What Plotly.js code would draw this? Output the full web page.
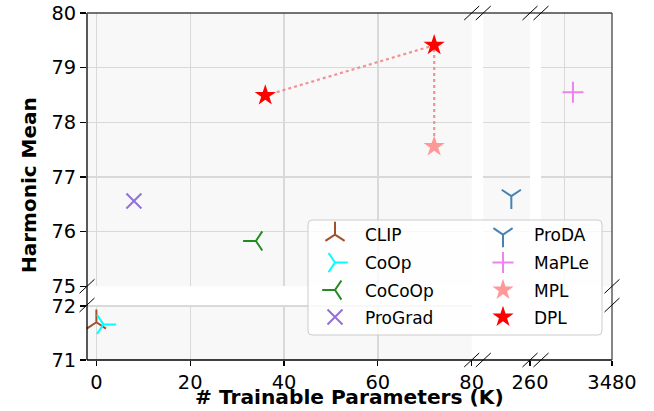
<!DOCTYPE html>
<html>
<head>
<meta charset="utf-8">
<script src="https://cdn.plot.ly/plotly-3.0.1.min.js"></script>
<style>
html,body{margin:0;padding:0;background:#fff;}
#chart{width:654px;height:411px;}
</style>
</head>
<body>
<div id="chart"></div>
<script>
// ---- data (x: # trainable parameters in K, y: harmonic mean) ----
const methods = ['CLIP', 'CoOp', 'CoCoOp', 'ProGrad', 'ProDA', 'MaPLe', 'MPL', 'DPL'];
const clipX = [0],      clipY = [71.70];
const coopX = [1.5],    coopY = [71.66];
const cocoopX = [34],   cocoopY = [75.83];
const progradX = [8],   progradY = [76.56];
const prodaX = [248],   prodaY = [76.65];
const mapleX = [3447],  mapleY = [78.55];
const mplX = [72],      mplY = [77.56];
const dplX = [36, 72],  dplY = [78.49, 79.41];

// ---- ticks ----
const xTicks1 = [0, 20, 40, 60, 80];
const xTicks2 = [260];  const xGrid2 = [230];
const xTicks3 = [3480]; const xGrid3 = [3440];
const yTicksTop = [75, 76, 77, 78, 79, 80];
const yTicksBottom = [71, 72];

// ---- geometry helpers (pixel -> paper) ----
const W = 654, H = 411;
const M = {l: 87, r: 42, t: 13, b: 51};
const PW = W - M.l - M.r, PH = H - M.t - M.b;
const PX = x => (x - M.l) / PW;
const PY = y => (H - M.b - y) / PH;

const colD = [[87, 471.7], [483.3, 530], [541, 612]].map(d => [PX(d[0]), Math.min(1, PX(d[1]))]);
const rowTop = [PY(286.3), 1];
const rowBot = [0, PY(305)];

const FONT = 'DejaVu Sans, Arial, sans-serif';
const gridColor = '#d9d9d9';
const bgColor = '#f8f8f8';

function xax(domain, range, tickvals, gridvals) {
  const a = {
    domain: domain, range: range, anchor: 'y2', type: 'linear',
    tickmode: 'array', tickvals: tickvals, ticktext: tickvals.map(String),
    showticklabels: true, ticks: 'outside', ticklen: 5, tickwidth: 1.2, tickcolor: '#000',
    showgrid: true, gridcolor: gridColor, gridwidth: 1.3,
    zeroline: false, showline: false, fixedrange: true,
    tickfont: {family: FONT, size: 19.4, color: '#000'}
  };
  if (gridvals) a.minor = {tickmode: 'array', tickvals: gridvals, ticks: '', showgrid: true,
                           gridcolor: gridColor, gridwidth: 1.3};
  return a;
}
function yax(domain, range, tickvals) {
  return {
    domain: domain, range: range, anchor: 'x', type: 'linear',
    tickmode: 'array', tickvals: tickvals,
    showticklabels: true, ticks: 'outside', ticklen: 6, tickwidth: 1.2, tickcolor: '#000',
    showgrid: true, gridcolor: gridColor, gridwidth: 1.3,
    zeroline: false, showline: false, fixedrange: true,
    tickfont: {family: FONT, size: 19.4, color: '#000'}
  };
}

// legend entry positions (pixel centers of symbol / row)
const legRows = [235, 263, 290.5, 317.5];
const legCols = [334, 500];
const legendKeys = ['legend', 'legend2', 'legend3', 'legend4', 'legend5', 'legend6', 'legend7', 'legend8'];

function pt(name, xs, ys, xa, ya, symbol, color, size, lw, idx) {
  return {
    type: 'scatter', mode: 'markers', name: name, x: xs, y: ys,
    xaxis: xa, yaxis: ya, legend: legendKeys[idx], cliponaxis: false,
    marker: {symbol: symbol, size: size, color: color, line: {color: color, width: lw}}
  };
}

const traces = [
  {type: 'scatter', mode: 'lines', x: [dplX[0], dplX[1], mplX[0]], y: [dplY[0], dplY[1], mplY[0]],
   xaxis: 'x', yaxis: 'y', showlegend: false, hoverinfo: 'skip',
   line: {color: 'rgba(240,128,128,0.85)', width: 2.2, dash: 'dot'}},
  pt(methods[0], clipX, clipY, 'x', 'y2', 'y-up', '#a0522d', 16, 2, 0),
  pt(methods[1], coopX, coopY, 'x', 'y2', 'y-right', '#00ffff', 16, 2, 1),
  pt(methods[2], cocoopX, cocoopY, 'x', 'y', 'y-left', '#228b22', 16, 2, 2),
  pt(methods[3], progradX, progradY, 'x', 'y', 'x-thin', '#9370db', 15, 2, 3),
  pt(methods[4], prodaX, prodaY, 'x2', 'y', 'y-down', '#4682b4', 16, 2, 4),
  pt(methods[5], mapleX, mapleY, 'x3', 'y', 'cross-thin', '#ee82ee', 15, 2, 5),
  pt(methods[6], mplX, mplY, 'x', 'y', 'star', '#ff9999', 16, 0, 6),
  pt(methods[7], dplX, dplY, 'x', 'y', 'star', '#ff0000', 16, 0, 7)
];

const layout = {
  width: W, height: H,
  margin: M,
  paper_bgcolor: '#ffffff',
  plot_bgcolor: bgColor,
  font: {family: FONT, size: 17, color: '#000'},
  xaxis:  xax(colD[0], [-2, 80], xTicks1, null),
  xaxis2: xax(colD[1], [230, 260], xTicks2, xGrid2),
  xaxis3: xax(colD[2], [3420, 3480], xTicks3, xGrid3),
  yaxis:  yax(rowTop, [75, 80], yTicksTop),
  yaxis2: yax(rowBot, [71, 72.02], yTicksBottom),
  showlegend: true,
  annotations: [
    {text: '<b>Harmonic Mean</b>', xref: 'paper', yref: 'paper', x: PX(29.5), y: PY(185.5),
     xanchor: 'center', yanchor: 'middle', textangle: -90, showarrow: false,
     font: {family: FONT, size: 20, color: '#000'}},
    {text: '<b># Trainable Parameters (K)</b>', xref: 'paper', yref: 'paper', x: PX(349), y: PY(397),
     xanchor: 'center', yanchor: 'middle', showarrow: false,
     font: {family: FONT, size: 20.2, color: '#000'}}
  ],
  shapes: []
};

// legends: one per entry, two columns of four
legendKeys.forEach((k, i) => {
  const col = Math.floor(i / 4), row = i % 4;
  layout[k] = {
    x: PX(legCols[col] - 29 + (col ? 1 : 0)), y: PY(legRows[row]), xanchor: 'left', yanchor: 'middle',
    xref: 'paper', yref: 'paper',
    bgcolor: 'rgba(0,0,0,0)', borderwidth: 0, itemwidth: col ? 52 : 50,
    font: {family: FONT, size: 17, color: '#000'}, itemclick: false, itemdoubleclick: false
  };
});

// legend frame (rounded, semi-transparent)
(function () {
  const x0 = PX(308), x1 = PX(602), y0 = PY(335), y1 = PY(220);
  const rx = 4 / PW, ry = 4 / PH;
  const p = `M${x0 + rx},${y1} L${x1 - rx},${y1} Q${x1},${y1} ${x1},${y1 - ry} L${x1},${y0 + ry} Q${x1},${y0} ${x1 - rx},${y0} L${x0 + rx},${y0} Q${x0},${y0} ${x0},${y0 + ry} L${x0},${y1 - ry} Q${x0},${y1} ${x0 + rx},${y1} Z`;
  layout.shapes.push({type: 'path', path: p, xref: 'paper', yref: 'paper', layer: 'above',
    fillcolor: 'rgba(255,255,255,0.8)', line: {color: '#cccccc', width: 1}});
})();

// frame
const fr = (x0, y0, x1, y1, c, w) => ({type: 'line', xref: 'paper', yref: 'paper', layer: 'above',
  x0: x0, y0: y0, x1: x1, y1: y1, line: {color: c, width: w}});
layout.shapes.push(fr(0, 0, 0, 1, '#000', 1.3));
layout.shapes.push(fr(0, 0, 1, 0, '#000', 1.3));
layout.shapes.push(fr(0, 1, 1, 1, '#444', 1.3));
layout.shapes.push(fr(1, 0, 1, 1, '#444', 1.3));

// break marks
const slash = (cx, cy) => fr(PX(cx - 7.5), PY(cy + 7), PX(cx + 7.5), PY(cy - 7), '#000', 1);
[471.7, 483.3, 530, 541].forEach(cx => { layout.shapes.push(slash(cx, 13)); layout.shapes.push(slash(cx, 360)); });
[286.3, 305].forEach(cy => { layout.shapes.push(slash(87, cy)); layout.shapes.push(slash(612, cy)); });

Plotly.newPlot('chart', traces, layout, {staticPlot: true, displayModeBar: false});
</script>
</body>
</html>
